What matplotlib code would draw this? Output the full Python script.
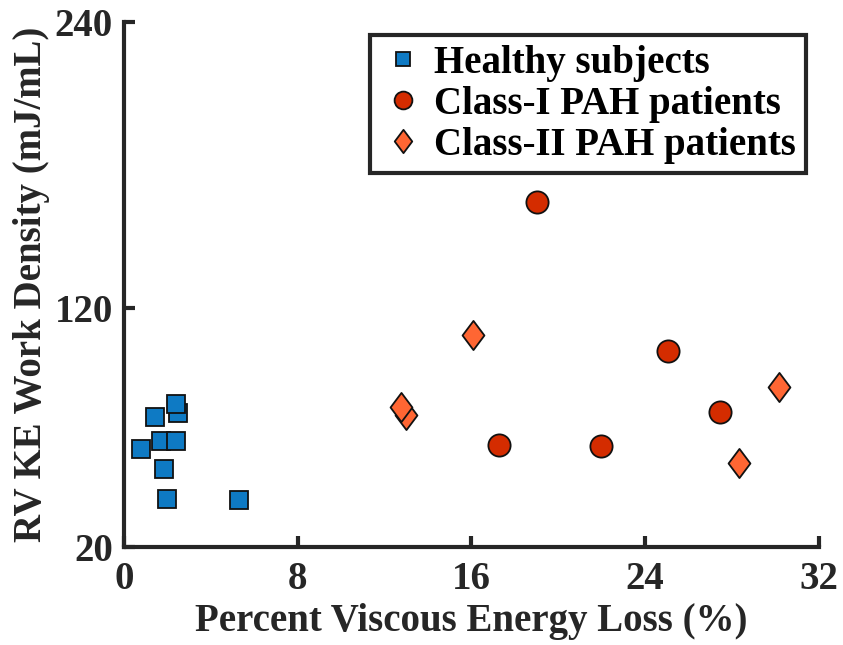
import matplotlib
matplotlib.use("Agg")
import matplotlib.pyplot as plt
from matplotlib.path import Path

# Data
healthy_x = [2.50, 1.43, 1.70, 2.38, 0.77, 1.84, 1.97, 5.28, 2.39]
healthy_y = [76.0, 74.6, 64.4, 64.4, 60.9, 52.7, 40.0, 39.7, 79.9]
class1_x = [19.0, 25.03, 27.43, 17.28, 21.95]
class1_y = [164.4, 102.1, 76.5, 62.7, 62.4]
class2_x = [16.05, 12.98, 12.75, 30.14, 28.31]
class2_y = [108.8, 75.3, 78.8, 87.2, 55.3]
labels = ["Healthy subjects", "Class-I PAH patients", "Class-II PAH patients"]
xticks = [0, 8, 16, 24, 32]
yticks = [20, 120, 240]

plt.rcParams['font.family'] = ['Liberation Serif', 'DejaVu Serif']
plt.rcParams['font.weight'] = 'bold'
dark = '#262626'

fig = plt.figure(figsize=(8.43, 6.45), dpi=100)
ax = fig.add_axes([0.147, 0.152, 0.9715 - 0.147, 0.966 - 0.152])

diamond = Path([(0, 1), (0.75, 0), (0, -1), (-0.75, 0), (0, 1)],
               [Path.MOVETO, Path.LINETO, Path.LINETO, Path.LINETO, Path.CLOSEPOLY])

ax.plot(healthy_x, healthy_y, linestyle='none', marker='s', ms=12.5,
        mfc='#0E7AC4', mec='#111111', mew=1.3, label=labels[0], zorder=3)
ax.plot(class1_x, class1_y, linestyle='none', marker='o', ms=16,
        mfc='#D42C00', mec='#111111', mew=1.3, label=labels[1], zorder=3)
ax.plot(class2_x, class2_y, linestyle='none', marker=diamond, ms=21,
        mfc='#FF6633', mec='#111111', mew=1.3, label=labels[2], zorder=3)

ax.set_xlim(0, 32)
ax.set_ylim(20, 240)
ax.set_xticks(xticks)
ax.set_yticks(yticks)
ax.tick_params(direction='in', length=8, width=3, color=dark, labelcolor=dark,
               labelsize=28, pad=8)
ax.tick_params(axis='x', pad=10)
for s in ['top', 'right']:
    ax.spines[s].set_visible(False)
for s in ['left', 'bottom']:
    ax.spines[s].set_linewidth(3)
    ax.spines[s].set_color(dark)

ax.set_xlabel("Percent Viscous Energy Loss (%)", fontsize=28, fontweight='bold',
              color=dark, labelpad=4)
ax.set_ylabel("RV KE Work Density (mJ/mL)", fontsize=28, fontweight='bold',
              color=dark, labelpad=3)

leg = ax.legend(loc='upper right', bbox_to_anchor=(0.981, 0.975), fontsize=28,
                frameon=True, fancybox=False, framealpha=1, markerscale=0.8,
                handletextpad=0.2, borderpad=0.25, labelspacing=0.1,
                handlelength=1.2, borderaxespad=0)
fr = leg.get_frame()
fr.set_edgecolor(dark)
fr.set_linewidth(3)
for t in leg.get_texts():
    t.set_color('black')

fig.savefig("out.png", dpi=100)
